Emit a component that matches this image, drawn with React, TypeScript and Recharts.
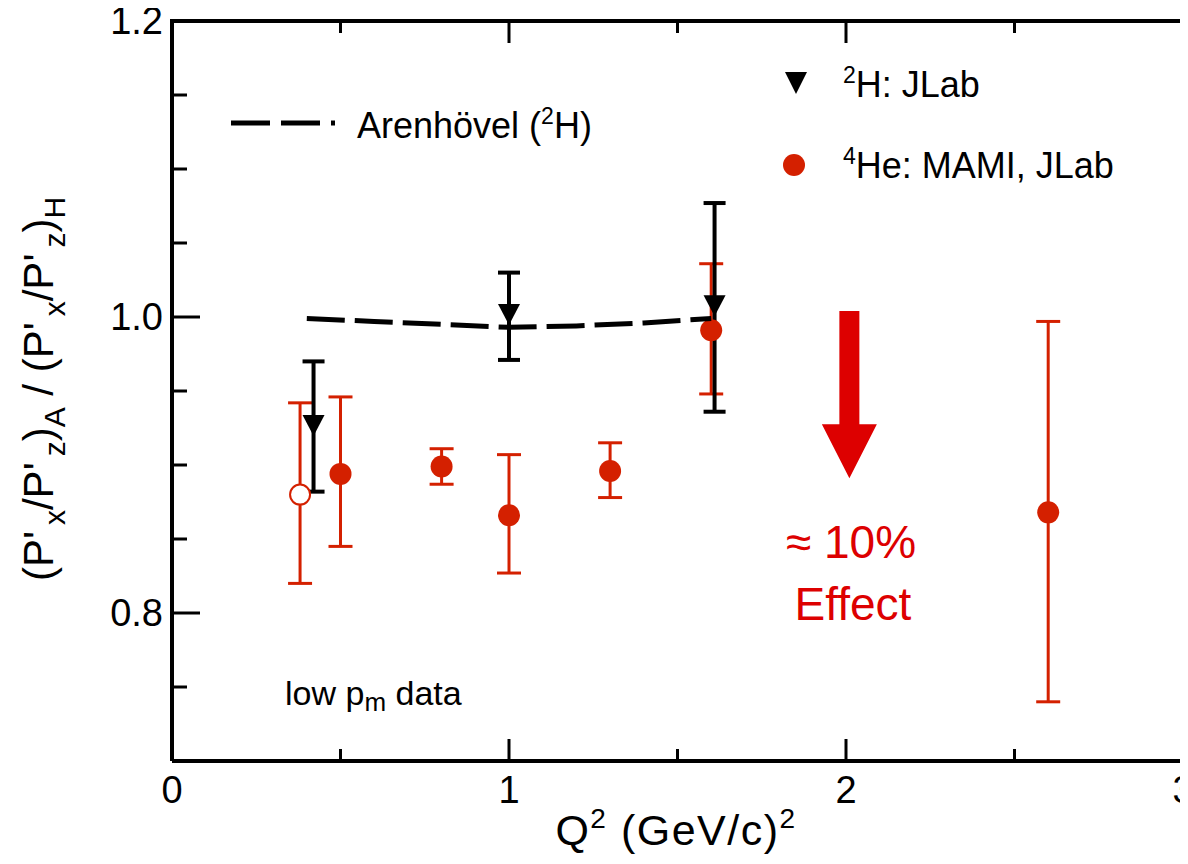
import React from "react";
import { ScatterChart, Scatter, XAxis, YAxis, ErrorBar, ReferenceLine } from "recharts";

// 4He: MAMI, JLab (filled)
const heQ2 = [0.5, 0.8, 1.0, 1.3, 1.6, 2.6];
const heRatio = [0.894, 0.899, 0.866, 0.896, 0.991, 0.868];
const heErrDown = [0.049, 0.012, 0.039, 0.018, 0.043, 0.128];
const heErrUp = [0.052, 0.012, 0.041, 0.019, 0.045, 0.129];

// 4He open point
const heOpenQ2 = [0.38];
const heOpenRatio = [0.88];
const heOpenErrDown = [0.06];
const heOpenErrUp = [0.062];

// 2H: JLab
const hQ2 = [0.42, 1.0, 1.61];
const hRatio = [0.927, 1.002, 1.008];
const hErrDown = [0.045, 0.031, 0.072];
const hErrUp = [0.043, 0.028, 0.069];

// Arenhövel (2H) calculation
const theoryQ2 = [0.4, 0.6, 0.8, 1.0, 1.2, 1.4, 1.6];
const theoryRatio = [0.999, 0.997, 0.995, 0.993, 0.994, 0.996, 0.999];

// "~10% effect" arrow, from top to tip
const arrowQ2 = [2.01, 2.01];
const arrowRatio = [1.004, 0.891];

const xDomain = [0, 3];
const yDomain = [0.7, 1.2];
const xTicks = [0, 0.5, 1, 1.5, 2, 2.5, 3];
const xLabeled = [0, 1, 2, 3];
const yTicks = [0.7, 0.75, 0.8, 0.85, 0.9, 0.95, 1.0, 1.05, 1.1, 1.15, 1.2];
const yLabeled = [0.8, 1.0, 1.2];

// plot box in page pixels (matches chart margins + axis sizes below)
const BOX = { left: 172, top: 21, right: 1183, bottom: 761 };

const RED = "#d42000";
const ARROW_RED = "#dd0000";
const FONT = "'Liberation Sans', Arial, sans-serif";

const heData = heQ2.map((x, i) => ({ x, y: heRatio[i], err: [heErrDown[i], heErrUp[i]] }));
const heOpenData = heOpenQ2.map((x, i) => ({ x, y: heOpenRatio[i], err: [heOpenErrDown[i], heOpenErrUp[i]] }));
const hData = hQ2.map((x, i) => ({ x, y: hRatio[i], err: [hErrDown[i], hErrUp[i]] }));
const theoryData = theoryQ2.map((x, i) => ({ x, y: theoryRatio[i] }));

const isIn = (list: number[], v: number) => list.some((l) => Math.abs(l - v) < 1e-6);

const BottomTick = (props: any) => {
  const { x, y, payload } = props;
  const major = isIn(xLabeled, payload.value);
  return (
    <g>
      <line x1={x} x2={x} y1={y} y2={y - (major ? 22 : 12)} stroke="#000" strokeWidth={3} />
      {major && (
        <text x={x} y={y + 42} textAnchor="middle" fontSize={38} fontFamily={FONT} fill="#000">
          {payload.value}
        </text>
      )}
    </g>
  );
};

const LeftTick = (props: any) => {
  const { x, y, payload } = props;
  const major = isIn(yLabeled, payload.value);
  return (
    <g>
      <line x1={x} x2={x + (major ? 28 : 15)} y1={y} y2={y} stroke="#000" strokeWidth={3} />
      {major && (
        <text x={x - 9} y={y + 13} textAnchor="end" fontSize={38} fontFamily={FONT} fill="#000">
          {payload.value.toFixed(1)}
        </text>
      )}
    </g>
  );
};

const RightTick = (props: any) => {
  const { x, y, payload } = props;
  const major = isIn(yLabeled, payload.value);
  return <line x1={x} x2={x - (major ? 28 : 15)} y1={y} y2={y} stroke="#000" strokeWidth={3} />;
};

const Dot = (props: any) => <circle cx={props.cx} cy={props.cy} r={11} fill={RED} />;
const OpenDot = (props: any) => (
  <circle cx={props.cx} cy={props.cy} r={10} fill="#fff" stroke={RED} strokeWidth={2} />
);
const Triangle = (props: any) => {
  const { cx, cy } = props;
  return <polygon points={`${cx - 11},${cy - 10} ${cx + 11},${cy - 10} ${cx},${cy + 11}`} fill="#000" />;
};
const NoDot = () => <g />;

const Arrow = (props: any) => {
  const { x1, y1, x2, y2 } = props;
  const headLen = 54;
  const headHalf = 27.5;
  const shaftHalf = 10;
  const yb = y2 - headLen;
  const pts = [
    [x1 - shaftHalf, y1],
    [x1 + shaftHalf, y1],
    [x1 + shaftHalf, yb],
    [x1 + headHalf, yb],
    [x2, y2],
    [x1 - headHalf, yb],
    [x1 - shaftHalf, yb],
  ]
    .map((p) => p.join(","))
    .join(" ");
  return <polygon points={pts} fill={ARROW_RED} />;
};

const xPix = (v: number) =>
  BOX.left + ((v - xDomain[0]) / (xDomain[1] - xDomain[0])) * (BOX.right - BOX.left);

const Overlay = () => (
  <svg
    width={1188}
    height={864}
    style={{ position: "absolute", left: 0, top: 0, pointerEvents: "none" }}
    fontFamily={FONT}
  >
    {/* box: top and right edges, mirrored ticks on top */}
    <path
      d={`M${BOX.left},${BOX.top} H${BOX.right} V${BOX.bottom}`}
      fill="none"
      stroke="#000"
      strokeWidth={4}
      strokeLinecap="square"
    />
    {xTicks.map((v) => (
      <line
        key={v}
        x1={xPix(v)}
        x2={xPix(v)}
        y1={BOX.top}
        y2={BOX.top + (isIn(xLabeled, v) ? 22 : 12)}
        stroke="#000"
        strokeWidth={3}
      />
    ))}

    {/* legend: theory */}
    <line x1={231} x2={335} y1={123} y2={123} stroke="#000" strokeWidth={5} strokeDasharray="39 11" />
    <text x={357} y={138} fontSize={36} fill="#000">
      Arenhövel (<tspan fontSize={23} dy={-14}>2</tspan>
      <tspan dy={14}>H)</tspan>
    </text>
    {/* legend: data */}
    <polygon points="785,72 807,72 796,94" fill="#000" />
    <text x={843} y={97} fontSize={36} fill="#000">
      <tspan fontSize={23} dy={-14}>2</tspan>
      <tspan dy={14}>H: JLab</tspan>
    </text>
    <circle cx={794} cy={165} r={11} fill={RED} />
    <text x={843} y={178} fontSize={36} fill="#000">
      <tspan fontSize={23} dy={-14}>4</tspan>
      <tspan dy={14}>He: MAMI, JLab</tspan>
    </text>

    {/* annotations */}
    <text x={285} y={705} fontSize={34} fill="#000">
      low p<tspan fontSize={26} dy={6}>m</tspan>
      <tspan dy={-6}> data</tspan>
    </text>
    <text x={851} y={558} fontSize={46} fill={ARROW_RED} textAnchor="middle">
      ≈ 10%
    </text>
    <text x={853} y={620} fontSize={46} fill={ARROW_RED} textAnchor="middle">
      Effect
    </text>

    {/* x axis title */}
    <text x={676} y={845} fontSize={43} letterSpacing={1.5} fill="#000" textAnchor="middle">
      Q<tspan fontSize={28} dy={-17}>2</tspan>
      <tspan dy={17}> (GeV/c)</tspan>
      <tspan fontSize={28} dy={-17}>2</tspan>
    </text>

    {/* y axis title */}
    <text transform="translate(53,389) rotate(-90)" x={0} y={0} fontSize={42} fill="#000" textAnchor="middle">
      (P'<tspan fontSize={30} dy={12} dx={6}>x</tspan>
      <tspan dy={-12}>/P'</tspan>
      <tspan fontSize={30} dy={12} dx={6}>z</tspan>
      <tspan dy={-12}>)</tspan>
      <tspan fontSize={30} dy={12}>A</tspan>
      <tspan dy={-12}> / (P'</tspan>
      <tspan fontSize={30} dy={12} dx={6}>x</tspan>
      <tspan dy={-12}>/P'</tspan>
      <tspan fontSize={30} dy={12} dx={6}>z</tspan>
      <tspan dy={-12}>)</tspan>
      <tspan fontSize={30} dy={12}>H</tspan>
    </text>
  </svg>
);

export default function App() {
  return (
    <div style={{ position: "relative", margin: -8, width: 1188, height: 864, background: "#fff" }}>
      <ScatterChart width={1188} height={864} margin={{ top: 21, right: 4, bottom: 43, left: 72 }}>
        <XAxis
          xAxisId="b"
          type="number"
          dataKey="x"
          domain={xDomain}
          ticks={xTicks}
          interval={0}
          height={60}
          tickSize={0}
          tickMargin={0}
          tickLine={false}
          axisLine={{ stroke: "#000", strokeWidth: 4 }}
          tick={<BottomTick />}
        />
        <YAxis
          yAxisId="l"
          type="number"
          dataKey="y"
          domain={yDomain}
          ticks={yTicks}
          interval={0}
          width={100}
          tickSize={0}
          tickMargin={0}
          tickLine={false}
          axisLine={{ stroke: "#000", strokeWidth: 4 }}
          tick={<LeftTick />}
        />
        <YAxis
          yAxisId="r"
          orientation="right"
          type="number"
          dataKey="y"
          domain={yDomain}
          ticks={yTicks}
          interval={0}
          width={1}
          tickSize={0}
          tickMargin={0}
          tickLine={false}
          axisLine={false}
          tick={<RightTick />}
        />

        <ReferenceLine
          xAxisId="b"
          yAxisId="l"
          segment={[
            { x: arrowQ2[0], y: arrowRatio[0] },
            { x: arrowQ2[1], y: arrowRatio[1] },
          ]}
          shape={<Arrow />}
        />

        <Scatter xAxisId="b" yAxisId="l" data={heData} shape={<Dot />} isAnimationActive={false}>
          <ErrorBar dataKey="err" direction="y" width={12} stroke={RED} strokeWidth={3} isAnimationActive={false} />
        </Scatter>
        <Scatter xAxisId="b" yAxisId="l" data={heOpenData} shape={<OpenDot />} isAnimationActive={false}>
          <ErrorBar dataKey="err" direction="y" width={12} stroke={RED} strokeWidth={3} isAnimationActive={false} />
        </Scatter>
        <Scatter
          xAxisId="b"
          yAxisId="l"
          data={theoryData}
          line={{ stroke: "#000", strokeWidth: 5, strokeDasharray: "38 10" }}
          shape={<NoDot />}
          isAnimationActive={false}
        />
        <Scatter xAxisId="b" yAxisId="l" data={hData} shape={<Triangle />} isAnimationActive={false}>
          <ErrorBar dataKey="err" direction="y" width={11} stroke="#000" strokeWidth={4} isAnimationActive={false} />
        </Scatter>
      </ScatterChart>
      <Overlay />
    </div>
  );
}
